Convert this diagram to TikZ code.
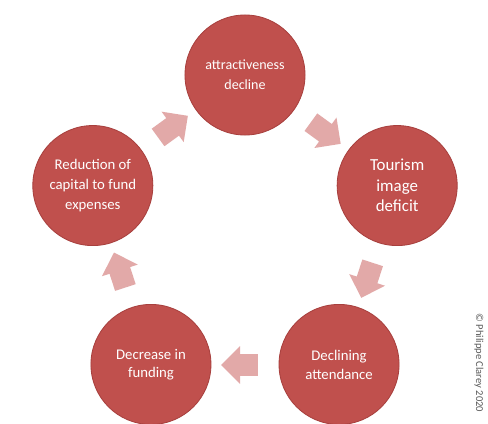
\documentclass[tikz,border=0pt]{standalone}
\usepackage{fontspec}
\setmainfont{Carlito}
\usetikzlibrary{shapes.arrows}
\definecolor{cycred}{HTML}{C0504D}
\definecolor{cycedge}{HTML}{A8403E}
\definecolor{cycpink}{HTML}{E2A9A8}
\begin{document}
\begin{tikzpicture}[x=0.025cm, y=0.025cm]
    \useasboundingbox[fill=white] (-245,-188) rectangle (243,235);
    \tikzstyle{every node}=[shape=circle, fill=cycred, draw=cycedge, line width=0.6pt,
      minimum size=3cm, inner sep=0pt, text=white, align=center,
      font=\fontsize{10}{14.2}\selectfont];
    \tikzstyle{cycarrow}=[shape=single arrow, fill=cycpink, draw=none, minimum size=0pt,
      inner sep=0.26cm, minimum height=0.92cm, single arrow head extend=0.2cm];
    \node (A) at (90:160) {attractiveness\\decline};
    \node (T) at (18:160) [font=\fontsize{12}{14.5}\selectfont] {Tourism\\image\\deficit};
    \node (D) at (-54:160) [font=\fontsize{10.5}{13.5}\selectfont] {Declining\\attendance};
    \node (F) at (-126:160) [font=\fontsize{10.5}{13}\selectfont] {Decrease in\\funding};
    \node (R) at (162:160) [font=\fontsize{10.5}{14}\selectfont] {Reduction of\\capital to fund\\expenses};
    \node (AT) at (54:130) [cycarrow, rotate=-36] {};
    \node (TD) at (-18:130) [cycarrow, rotate=-108] {};
    \node (DF) at (-90:130) [cycarrow, rotate=180] {};
    \node (FR) at (-162:130) [cycarrow, rotate=108] {};
    \node (RA) at (126:130) [cycarrow, rotate=36] {};
    \node (C) at (234,-128) [shape=rectangle, fill=none, draw=none, minimum size=0pt,
      text=black!65, rotate=-90, font=\fontsize{7.5}{8}\selectfont] {© Philippe Clarey 2020};
  \end{tikzpicture}
\end{document}
